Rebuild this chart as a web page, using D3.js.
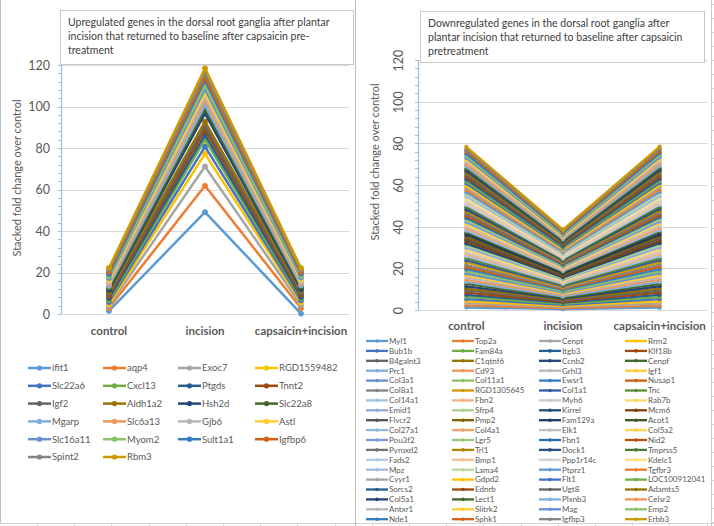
<!DOCTYPE html>
<html><head><meta charset="utf-8">
<script src="https://cdn.jsdelivr.net/npm/d3@7"></script>
<style>
body{margin:0;background:#fff}
svg{display:block}
text{font-family:Lato,"Open Sans",sans-serif}
</style>
</head><body>
<svg id="c" width="714" height="526"></svg>
<script>
// ---------------- DATA ----------------
const categories = ["control", "incision", "capsaicin+incision"];
const yTicks = [0, 20, 40, 60, 80, 100, 120];
const yAxisTitle = "Stacked fold change over control";

const upTitle = ["Upregulated genes in the dorsal root ganglia after plantar",
                 "incision that returned to baseline after capsaicin pre-",
                 "treatment"];
const upGenes = ["ifit1","aqp4","Exoc7","RGD1559482","Slc22a6","Cxcl13","Ptgds","Tnnt2",
                 "Igf2","Aldh1a2","Hsh2d","Slc22a8","Mgarp","Slc6a13","Gjb6","Astl",
                 "Slc16a11","Myom2","Sult1a1","Igfbp6","Spint2","Rbm3"];
const upControl   = [1.5,1.4,1.0,0.9,1.0,0.9,1.0,1.0,0.9,1.0,1.0,0.9,1.0,1.0,0.9,1.0,1.0,0.9,1.0,1.0,0.9,1.0];
const upIncision  = [49.1,12.7,9.3,6.1,3.5,3.3,2.3,2.4,1.9,2.1,4.0,2.0,2.0,2.5,1.6,1.6,1.9,1.7,2.5,1.5,2.0,2.4];
const upCapsaicin = [0.2,2.6,1.5,1.3,1.0,0.9,0.8,1.0,0.9,1.0,0.8,1.0,0.9,1.0,0.8,0.9,1.0,0.9,1.0,0.8,0.9,0.9];

const downTitle = ["Downregulated genes in the dorsal root ganglia after",
                   "plantar incision that returned to baseline after capsaicin",
                   "pretreatment"];
const downGenes = ["Myl1","Top2a","Cenpt","Rrm2","Bub1b","Fam84a","Itgb3","Klf18b",
  "B4galnt3","C1qtnf6","Ccnb2","Cenpf","Prc1","Cd93","Grhl3","Igf1",
  "Col3a1","Col11a1","Ewsr1","Nusap1","Col8a1","RGD1305645","Col1a1","Tnc",
  "Col14a1","Fbn2","Myh6","Rab7b","Emid1","Sfrp4","Kirrel","Mcm6",
  "Flvcr2","Pmp2","Fam129a","Acot1","Col27a1","Col4a1","Elk1","Col5a2",
  "Pou3f2","Lgr5","Fbn1","Nid2","Pyroxd2","Trl1","Dock1","Tmprss5",
  "Fads2","Bmp1","Ppp1r14c","Kdelc1","Mpz","Lama4","Ptprz1","Tgfbr3",
  "Cyyr1","Gdpd2","Flt1","LOC100912041","Sorcs2","Ednrb","Ugt8","Adamts5",
  "Col5a1","Lect1","Plxnb3","Celsr2","Antxr1","Slitrk2","Mag","Emp2",
  "Nde1","Sphk1","Igfbp3","Erbb3"];
const downControl = [1.2,1.0,1.1,0.9, 1.0,1.1,1.0,1.0, 1.1,0.9,1.0,1.2, 1.0,1.0,1.1,1.0,
  0.9,1.0,1.1,1.0, 1.0,1.2,1.0,1.1, 1.0,0.9,1.0,1.0, 1.1,1.0,1.0,1.1,
  1.0,1.0,1.1,1.0, 1.0,1.1,1.0,0.9, 1.1,1.0,1.0,1.0, 1.0,1.1,1.0,1.2,
  1.0,1.0,0.9,1.0, 1.1,1.0,1.0,1.1, 1.0,1.0,1.1,1.0, 1.0,1.1,1.0,1.0,
  1.0,1.0,1.1,1.0, 1.1,1.0,1.0,1.0, 1.0,1.1,1.0,1.2];
const downIncision = [0.4,0.5,0.6,0.5, 0.5,0.4,0.6,0.5, 0.6,0.5,0.4,0.5, 0.5,0.6,0.5,0.4,
  0.5,0.5,0.6,0.5, 0.4,0.6,0.5,0.5, 0.5,0.5,0.4,0.6, 0.6,0.5,0.5,0.5,
  0.5,0.4,0.5,0.6, 0.5,0.5,0.5,0.5, 0.6,0.5,0.4,0.5, 0.5,0.6,0.5,0.5,
  0.5,0.5,0.6,0.4, 0.5,0.5,0.5,0.6, 0.4,0.5,0.5,0.5, 0.5,0.6,0.5,0.5,
  0.5,0.5,0.6,0.5, 0.5,0.4,0.5,0.5, 0.6,0.5,0.5,0.6];
const downCapsaicin = [1.1,1.0,1.0,1.0, 1.1,1.0,1.1,1.0, 1.0,1.0,1.1,1.1, 1.0,1.1,1.0,1.0,
  1.0,1.0,1.0,1.1, 1.1,1.1,1.0,1.0, 1.0,1.0,1.1,1.0, 1.0,1.1,1.0,1.0,
  1.1,1.0,1.0,1.1, 1.0,1.0,1.1,1.0, 1.0,1.1,1.0,1.0, 1.1,1.0,1.0,1.0,
  1.0,1.0,1.0,1.0, 1.0,1.1,1.0,1.1, 1.1,1.0,1.0,1.0, 1.0,1.0,1.1,1.0,
  1.1,1.0,1.0,1.1, 1.0,1.1,1.0,1.0, 1.0,1.0,1.0,1.1];

// ---------------- STYLE ----------------
const accents = ["#5B9BD5","#ED7D31","#A5A5A5","#FFC000","#4472C4","#70AD47"];
const variations = [[1,0],[0.6,0],[0.8,0.2],[0.8,0],[0.6,0.4],[0.5,0],[0.7,0.3],[0.7,0],[0.5,0.5]];
function officeColor(i){
  const base = d3.hsl(accents[i % 6]);
  const v = variations[Math.floor(i / 6) % variations.length];
  base.l = Math.min(1, base.l * v[0] + v[1]);
  return base.formatHex();
}
const textGray = "#595959";
const svg = d3.select("#c");

// spreadsheet background pieces
svg.append("line").attr("x1",0).attr("x2",714).attr("y1",523.5).attr("y2",523.5).attr("stroke","#d4d4d4");
svg.selectAll("line.cell").data(d3.range(37, 714, 37.2)).join("line")
  .attr("x1",d=>Math.round(d)+0.5).attr("x2",d=>Math.round(d)+0.5).attr("y1",523).attr("y2",526).attr("stroke","#d4d4d4");
svg.append("line").attr("x1",0.5).attr("x2",0.5).attr("y1",0).attr("y2",523).attr("stroke","#bfbfbf");
svg.append("line").attr("x1",355.5).attr("x2",355.5).attr("y1",0).attr("y2",526).attr("stroke","#bfbfbf");
svg.append("line").attr("x1",711.5).attr("x2",711.5).attr("y1",0).attr("y2",526).attr("stroke","#c8c8c8");
svg.selectAll("line.row").data(d3.range(4, 526, 14)).join("line")
  .attr("x1",712).attr("x2",714).attr("y1",d=>d+0.5).attr("y2",d=>d+0.5).attr("stroke","#d4d4d4");

function drawPanel(cfg){
  const g = svg.append("g");
  const x = d3.scaleBand().domain(categories).range([cfg.x0, cfg.x1]);
  const xc = c => x(c) + x.bandwidth()/2;
  const y = d3.scaleLinear().domain([0,120]).range([cfg.yBottom, cfg.yTop]);

  // gridlines
  g.selectAll("line.grid").data(yTicks).join("line")
    .attr("x1", cfg.x0).attr("x2", cfg.x1)
    .attr("y1", d => Math.round(y(d))+0.5).attr("y2", d => Math.round(y(d))+0.5)
    .attr("stroke", "#d9d9d9").attr("stroke-width", 1);

  // y axis line + ticks
  const ax = g.append("g").attr("transform", `translate(${cfg.x0},0)`);
  ax.append("line").attr("x1",0.5).attr("x2",0.5).attr("y1",y(120)).attr("y2",y(0)).attr("stroke","#9dbfe0").attr("stroke-width",1.3);
  ax.selectAll("line.minor").data(d3.range(0,121,4)).join("line")
    .attr("x1",-3).attr("x2",0).attr("y1",d=>Math.round(y(d))+0.5).attr("y2",d=>Math.round(y(d))+0.5)
    .attr("stroke","#9dbfe0");

  const yAxis = d3.axisLeft(y).tickValues(yTicks).tickSize(0).tickPadding(11);
  const ya = g.append("g").attr("transform", `translate(${cfg.x0},0)`).call(yAxis);
  ya.select(".domain").remove();
  ya.selectAll("text").attr("fill", textGray).style("font-size","12.5px").style("font-family","Lato");
  if (cfg.rotateTicks){
    ya.selectAll("text").attr("x",0).attr("dy","0.35em").attr("text-anchor","middle")
      .attr("transform","translate(-19,0) rotate(-90)");
  }

  // y title
  g.append("text").attr("transform", `translate(${cfg.titleX},${cfg.titleY}) rotate(-90)`)
    .attr("text-anchor","middle").attr("dy","0.35em").attr("fill",textGray)
    .style("font-size","11px").text(yAxisTitle);

  // x axis labels
  const xAxis = d3.axisBottom(x).tickSize(0).tickPadding(0);
  const xa = g.append("g").attr("transform", `translate(0,${cfg.xLabelY})`).call(xAxis);
  xa.select(".domain").remove();
  xa.selectAll("text").attr("fill", textGray).attr("dy","0").style("font-size","11.5px")
    .style("font-weight","bold").style("font-family","Lato");

  // data stacking
  const vals = cfg.values;
  const table = categories.map((c,i) => {
    const row = {cat:c};
    cfg.genes.forEach((gn,j) => row[gn] = vals[i][j]);
    return row;
  });
  const stacked = d3.stack().keys(cfg.genes)(table);
  const line = d3.line().x((d,i) => xc(categories[i])).y(d => y(d[1]));
  const sg = g.append("g");
  stacked.forEach((s,k) => {
    const col = officeColor(k);
    const gg = sg.append("g");
    gg.append("path").datum(s).attr("d", line).attr("fill","none")
      .attr("stroke", col).attr("stroke-width", cfg.lw).attr("stroke-linejoin","round");
    gg.selectAll("circle").data(s).join("circle")
      .attr("cx",(d,i)=>xc(categories[i])).attr("cy",d=>y(d[1])).attr("r",cfg.mr)
      .attr("fill",col).attr("stroke",col).attr("stroke-width",0.75);
  });

  // title box
  const tb = cfg.tbox;
  g.append("rect").attr("x",tb.x+1).attr("y",tb.y+1).attr("width",tb.w).attr("height",tb.h).attr("fill","#e6e6e6");
  g.append("rect").attr("x",tb.x+0.5).attr("y",tb.y+0.5).attr("width",tb.w).attr("height",tb.h)
    .attr("fill","#fff").attr("stroke","#c9c9c9");
  g.selectAll("text.title").data(cfg.title).join("text")
    .attr("x",tb.x+8).attr("y",(d,i)=>tb.y+15.5+i*14).attr("fill","#404040")
    .style("font-size",cfg.titleSize).text(d=>d);

  // legend
  const L = cfg.legend;
  const lg = g.append("g");
  cfg.genes.forEach((gn,k) => {
    const col = officeColor(k);
    const cx = L.cols[k % 4], cy = L.y0 + Math.floor(k/4)*L.dy;
    lg.append("line").attr("x1",cx).attr("x2",cx+L.len).attr("y1",cy).attr("y2",cy)
      .attr("stroke",col).attr("stroke-width",cfg.lw);
    lg.append("circle").attr("cx",cx+L.len/2).attr("cy",cy).attr("r",cfg.mr).attr("fill",col);
    lg.append("text").attr("x",cx+L.len+1).attr("y",cy).attr("dy","0.35em").attr("fill",textGray)
      .style("font-size",L.fs).text(gn);
  });
}

drawPanel({
  genes: upGenes, values: [upControl, upIncision, upCapsaicin],
  x0: 61, x1: 349, yBottom: 314, yTop: 65,
  titleX: 17, titleY: 178, xLabelY: 335, rotateTicks: false,
  lw: 2.5, mr: 2.6,
  tbox: {x:60, y:10, w:293, h:54}, title: upTitle, titleSize: "10.5px",
  legend: {cols:[28,103,178,255], y0:368, dy:17.8, len:23, fs:"9.5px"}
});
drawPanel({
  genes: downGenes, values: [downControl, downIncision, downCapsaicin],
  x0: 418, x1: 708, yBottom: 310, yTop: 60,
  titleX: 375, titleY: 162, xLabelY: 330, rotateTicks: true,
  lw: 2.3, mr: 1.8,
  tbox: {x:420, y:11, w:284, h:51}, title: downTitle, titleSize: "10.5px",
  legend: {cols:[366,452,539,625], y0:341, dy:9.9, len:22, fs:"8px"}
});
</script>
</body></html>
